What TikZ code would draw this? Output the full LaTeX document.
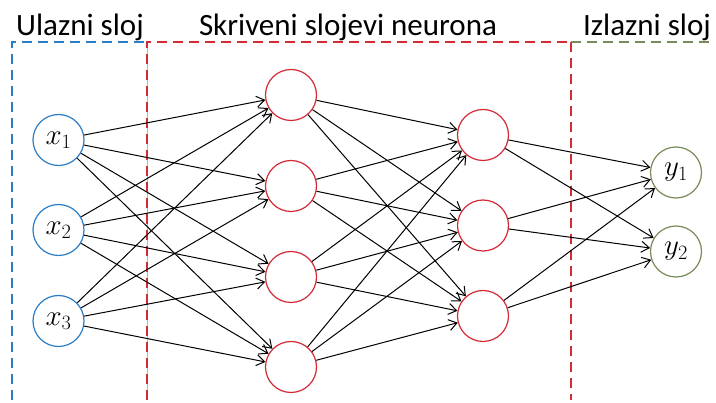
\RequirePackage{fix-cm}
\documentclass[tikz,border=0pt]{standalone}
\usepackage{fontspec}
\setmainfont{Carlito}
\usetikzlibrary{arrows.meta}
\definecolor{ulazblue}{HTML}{2A7EC8}
\definecolor{skrred}{HTML}{D42A36}
\definecolor{izlgreen}{HTML}{778A57}
\tikzset{
    neuron/.style = {circle, line width=1.2pt, minimum size=51pt, inner sep=0pt, fill=white},
    veza/.style = {black, line width=1pt, -{Straight Barb[length=8pt,width=11pt,line width=1pt]}},
    okvir/.style = {line width=1.7pt, dash pattern=on 10pt off 6pt},
    naslov/.style = {font=\fontsize{31}{36}\selectfont},
    oznaka/.style = {font=\fontsize{29}{33}\selectfont}
}
\begin{document}
\begin{tikzpicture}[x=1pt, y=-1pt]
                \useasboundingbox (0,0) rectangle (716,403);
                % okviri slojeva
                \draw[ulazblue!50, line width=0.6pt] (147,42) -- (147,400);
                \draw[okvir, ulazblue] (12,400) -- (12,42) -- (147,42);
                \draw[okvir, skrred] (147,400) -- (147,42) -- (571,42);
                \draw[okvir, skrred] (571,42) -- (571,400);
                \draw[okvir, izlgreen] (571,42) -- (714,42);
                \node[naslov, anchor=base] (tu) at (80,36) {Ulazni sloj};
                \node[naslov, anchor=base] (ts) at (348,36) {Skriveni slojevi neurona};
                \node[naslov, anchor=base] (ti) at (647,36) {Izlazni sloj};

                % neuroni
                \node[neuron, oznaka, draw=ulazblue] (x1) at (58.5,140) {$x_1$};
                \node[neuron, oznaka, draw=ulazblue] (x2) at (58.5,230) {$x_2$};
                \node[neuron, oznaka, draw=ulazblue] (x3) at (58.5,321) {$x_3$};
                \node[neuron, draw=skrred] (a1) at (291,95) {};
                \node[neuron, draw=skrred] (a2) at (291,186) {};
                \node[neuron, draw=skrred] (a3) at (291,277) {};
                \node[neuron, draw=skrred] (a4) at (291,367) {};
                \node[neuron, draw=skrred] (b1) at (483,135) {};
                \node[neuron, draw=skrred] (b2) at (483,225.5) {};
                \node[neuron, draw=skrred] (b3) at (483,316) {};
                \node[neuron, oznaka, draw=izlgreen] (y1) at (676,172.5) {$y_1$};
                \node[neuron, oznaka, draw=izlgreen] (y2) at (676,251.5) {$y_2$};

                % veze
                \foreach \i in {1,2,3}
                    \foreach \j in {1,2,3,4}
                        \draw[veza] (x\i) -- (a\j);
                \foreach \i in {1,2,3,4}
                    \foreach \j in {1,2,3}
                        \draw[veza] (a\i) -- (b\j);
                \foreach \i in {1,2,3}
                    \foreach \j in {1,2}
                        \draw[veza] (b\i) -- (y\j);
            \end{tikzpicture}
\end{document}
